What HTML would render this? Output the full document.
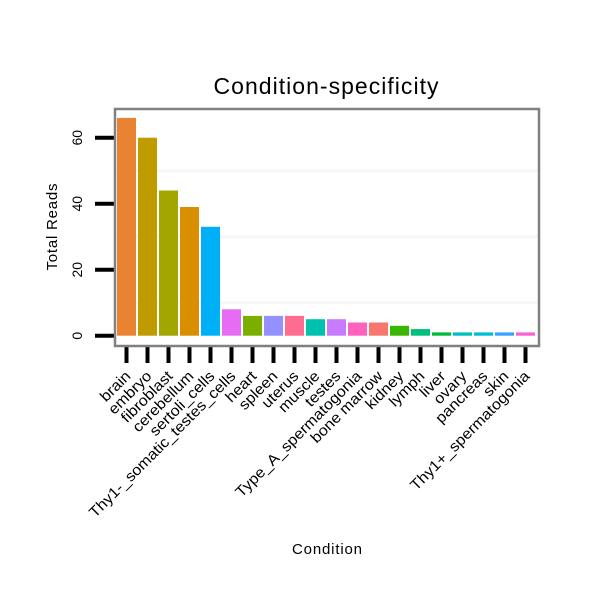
<!DOCTYPE html>
<html><head><meta charset="utf-8"><style>
body{margin:0;background:#fff;}
svg{display:block;font-family:"Liberation Sans",sans-serif;}
</style></head><body>
<svg id="chart" width="600" height="600">
<text x="326" y="94" text-anchor="middle" font-size="23" textLength="225">Condition-specificity</text>
<text x="0" y="0" transform="translate(57,227) rotate(-90)" text-anchor="middle" font-size="15" textLength="87">Total Reads</text>
<text x="327" y="554" text-anchor="middle" font-size="15" textLength="70">Condition</text>
<g id="grid"></g><g id="bars"></g><g id="axes"></g>
<rect x="115" y="109" width="424" height="237" fill="none" stroke="#808080" stroke-width="2.5"/>
</svg>
<script>
const categories=["brain","embryo","fibroblast","cerebellum","sertoli_cells","Thy1-_somatic_testes_cells","heart","spleen","uterus","muscle","testes","Type_A_spermatogonia","bone marrow","kidney","lymph","liver","ovary","pancreas","skin","Thy1+_spermatogonia"];
const values=[66,60,44,39,33,8,6,6,6,5,5,4,4,3,2,1,1,1,1,1];
const colors=["#EA8331","#C09B00","#A3A500","#D89000","#00B0F6","#E76BF3","#7CAE00","#9590FF","#FF6C91","#00C0AF","#C77CFF","#FF62BC","#F8766D","#39B600","#00BF7D","#00BA38","#00BFC4","#00BCD8","#35A2FF","#FD61D1"];
const yTicks=[0,20,40,60];
const grid=[10,30,50];
const NS="http://www.w3.org/2000/svg";
const y=v=>335.7-v*3.3;
const x=i=>117+i*21;
function mk(t,a,p){const e=document.createElementNS(NS,t);for(const k in a)e.setAttribute(k,a[k]);p.appendChild(e);return e;}
const G=document.getElementById('grid'),B=document.getElementById('bars'),A=document.getElementById('axes');
grid.forEach(v=>{const l=mk('line',{x1:116,x2:538,y1:y(v),y2:y(v),stroke:'#f7f7f7','stroke-width':3},G);

});
values.forEach((v,i)=>{const r=mk('rect',{x:x(i),y:y(v),width:19,height:y(0)-y(v),fill:colors[i]},B);


const t=mk('line',{x1:x(i)+9.5,x2:x(i)+9.5,y1:347,y2:363,stroke:'#000','stroke-width':4},A);


const cx=x(i)+9.5+5,cy=377;
const lb=mk('text',{x:0,y:0,transform:`translate(${cx},${cy}) rotate(-45) scale(1.08,1)`,'text-anchor':'end','font-size':15},A);
lb.textContent=categories[i];

});
yTicks.forEach(v=>{const t=mk('line',{x1:95,x2:114,y1:y(v),y2:y(v),stroke:'#000','stroke-width':4},A);


const lb=mk('text',{x:0,y:0,transform:`translate(82,${y(v)}) rotate(-90)`,'text-anchor':'middle','font-size':14},A);
lb.textContent=v;

});
</script>
</body></html>
